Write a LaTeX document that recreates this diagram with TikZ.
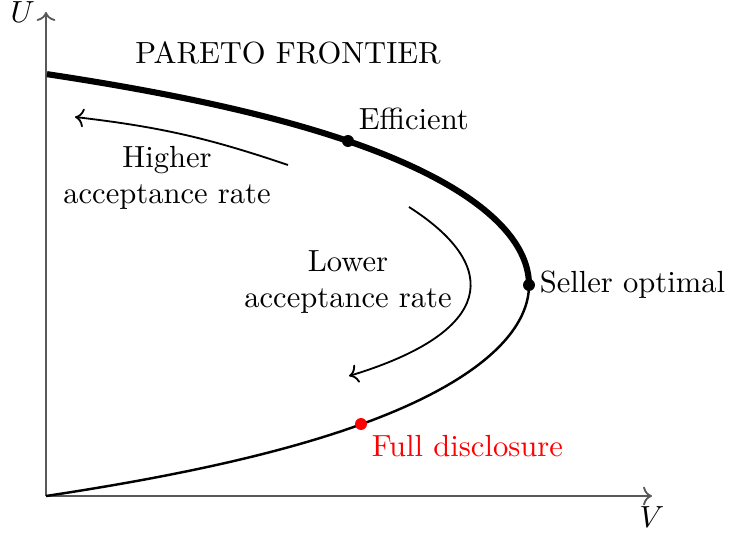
\documentclass[tikz,border=0pt]{standalone}
\usepackage{amsmath,amssymb}
\usepackage{tikz}
\usetikzlibrary{arrows.meta}
\usepackage{xcolor}
\begin{document}
\begin{tikzpicture}[x=0.327pt,y=0.327pt,
  axis/.style={->,black!65,semithick},
  frontier/.style={line width=2pt},
  lowerpart/.style={thick},
  sweep/.style={->,semithick},
  dot/.style={circle,fill,inner sep=0pt,minimum size=3.9pt}]
  \useasboundingbox (-46,-39) rectangle (684,496);
  \coordinate (O) at (0,0);
  \coordinate (Vmax) at (606,0);
  \coordinate (Umax) at (0,484);
  \draw[axis] (O) -- (Vmax) node[below,black] {$V$};
  \draw[axis] (O) -- (Umax) node[left,black] {$U$};
  % frontier: thick upper branch, thin lower branch
  \draw[frontier] plot[smooth,domain=0:1,samples=60]
    ({483*(1-\x*\x)*(1+0.29*\x*\x+0.16*\x*\x*\x*\x)},{211+211*\x});
  \draw[lowerpart] plot[smooth,domain=-1:0,samples=60]
    ({483*(1-\x*\x)*(1+0.29*\x*\x+0.16*\x*\x*\x*\x)},{211+211*\x});
  \node[dot] (eff) at (302,355) {};
  \node[dot] (sell) at (483,211) {};
  \node[dot,red] (full) at (315,72) {};
  \node[above right] at (eff) {Efficient};
  \node[right] at (sell) {Seller optimal};
  \node[below right,red] at (full) {Full disclosure};
  \node (title) at (242,443) {PARETO FRONTIER};
  % direction arrows
  \coordinate (h0) at (242,331);
  \coordinate (h1) at (29,379);
  \draw[sweep] (h0) to[bend right=6] (h1);
  \node[align=center] (high) at (121,318) {Higher\\acceptance rate};
  \coordinate (l0) at (363,289);
  \coordinate (l1) at (303,120);
  \draw[sweep] (l0) .. controls (457,229) and (448,164) .. (l1);
  \node[align=center] (low) at (302,214) {Lower\\acceptance rate};
\end{tikzpicture}
\end{document}
